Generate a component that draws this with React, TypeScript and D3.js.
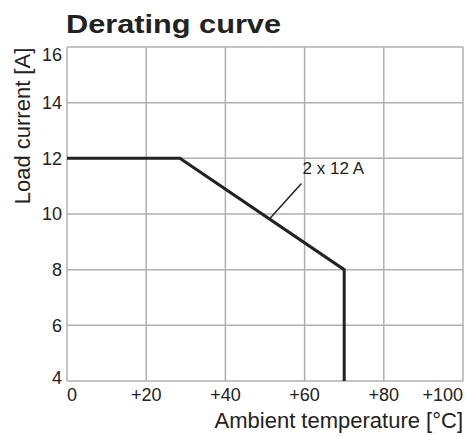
import { useEffect, useRef } from 'react';
import * as d3 from 'd3';

// Derating curve data
const curveTemp = [0, 28.5, 70, 70];
const curveCurrent = [12, 12, 8, 4];
const xTicks = [0, 20, 40, 60, 80, 100];
const xTickLabels = ['0', '+20', '+40', '+60', '+80', '+100'];
const yTicks = [4, 6, 8, 10, 12, 14, 16];
const curveLabel = '2 x 12 A';

export default function App() {
  const svgRef = useRef<SVGSVGElement>(null);

  useEffect(() => {
    if (!svgRef.current) return;
    const width = 465;
    const height = 436;
    const margin = { top: 47, right: 2, bottom: 55, left: 67 };

    const svg = d3.select(svgRef.current);
    svg.selectAll('*').remove();
    svg.attr('width', width).attr('height', height);

    const x = d3.scaleLinear().domain([0, 100]).range([margin.left, width - margin.right]);
    const y = d3.scaleLinear().domain([4, 16]).range([height - margin.bottom, margin.top]);
    const font = 'Liberation Sans, Arial, sans-serif';

    svg.append('rect').attr('width', width).attr('height', height).attr('fill', '#fff');

    // Grid
    svg.append('g')
      .selectAll('line')
      .data(xTicks)
      .enter()
      .append('line')
      .attr('x1', (d) => x(d))
      .attr('x2', (d) => x(d))
      .attr('y1', y(4))
      .attr('y2', y(16))
      .attr('stroke', '#b0b0b0')
      .attr('stroke-width', 1.5);

    svg.append('g')
      .selectAll('line')
      .data(yTicks)
      .enter()
      .append('line')
      .attr('x1', x(0))
      .attr('x2', x(100))
      .attr('y1', (d) => y(d))
      .attr('y2', (d) => y(d))
      .attr('stroke', '#b0b0b0')
      .attr('stroke-width', 1.5);

    // Curve
    const pts: [number, number][] = curveTemp.map((t, i) => [t, curveCurrent[i]]);
    const line = d3.line<[number, number]>()
      .x((d) => x(d[0]))
      .y((d) => y(d[1]));
    svg.append('path')
      .attr('d', line(pts))
      .attr('fill', 'none')
      .attr('stroke', '#222')
      .attr('stroke-width', 3)
      .attr('stroke-linejoin', 'miter');

    // Leader + label
    svg.append('line')
      .attr('x1', x(51))
      .attr('y1', y(9.8))
      .attr('x2', x(59.2))
      .attr('y2', y(11.1))
      .attr('stroke', '#222')
      .attr('stroke-width', 1.5);
    svg.append('text')
      .attr('x', x(59.5))
      .attr('y', y(11.45))
      .attr('font-family', font)
      .attr('font-size', 17)
      .attr('fill', '#222')
      .text(curveLabel);

    // Y tick labels
    svg.append('g')
      .selectAll('text')
      .data(yTicks)
      .enter()
      .append('text')
      .attr('x', margin.left - 5)
      .attr('y', (d) => y(d))
      .attr('dy', d => (d === 16 ? '0.75em' : d === 4 ? '0.15em' : '0.36em'))
      .attr('text-anchor', 'end')
      .attr('font-family', font)
      .attr('font-size', 18)
      .attr('fill', '#222')
      .text((d) => String(d));

    // X tick labels
    svg.append('g')
      .selectAll('text')
      .data(xTicks)
      .enter()
      .append('text')
      .attr('x', (d) => x(d))
      .attr('y', 401)
      .attr('text-anchor', (d, i) => (i === 0 ? 'start' : i === xTicks.length - 1 ? 'end' : 'middle'))
      .attr('font-family', font)
      .attr('font-size', 18)
      .attr('fill', '#222')
      .text((d, i) => xTickLabels[i]);

    // Axis titles
    svg.append('text')
      .attr('x', x(100))
      .attr('y', 428)
      .attr('text-anchor', 'end')
      .attr('font-family', font)
      .attr('font-size', 22)
      .attr('fill', '#222')
      .text('Ambient temperature [°C]');

    svg.append('text')
      .attr('transform', 'translate(30,126) rotate(-90)')
      .attr('text-anchor', 'middle')
      .attr('font-family', font)
      .attr('font-size', 22)
      .attr('fill', '#222')
      .text('Load current [A]');

    // Title
    svg.append('text')
      .attr('x', 66)
      .attr('y', 33)
      .attr('font-family', font)
      .attr('font-weight', 'bold')
      .attr('font-size', 25)
      .attr('fill', '#222')
      .attr('textLength', 215)
      .attr('lengthAdjust', 'spacingAndGlyphs')
      .text('Derating curve');
  }, []);

  return <svg ref={svgRef} style={{ position: 'absolute', left: 0, top: 0 }} />;
}
